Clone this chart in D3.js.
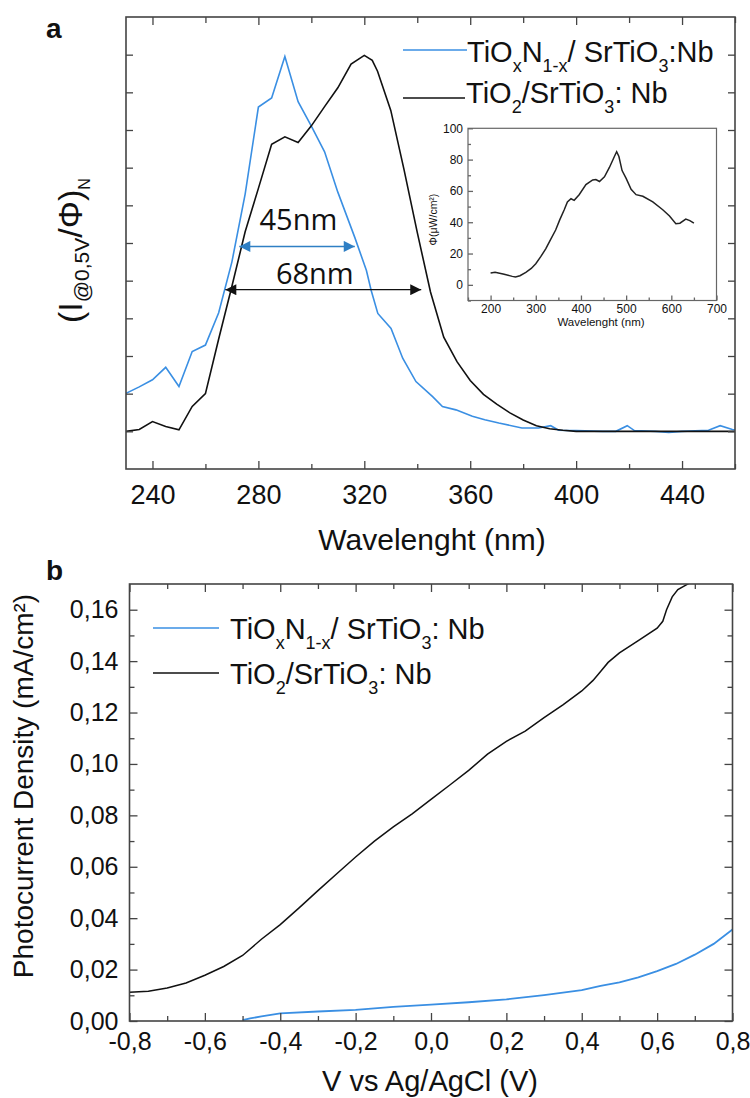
<!DOCTYPE html>
<html><head><meta charset="utf-8">
<script src="https://cdn.jsdelivr.net/npm/d3@7"></script>
<style>
body{margin:0;background:#fff}
svg{display:block}
text{font-family:"Liberation Sans",Arial,sans-serif;fill:#111}
</style>
</head><body>
<svg id="c" width="750" height="1098"></svg>
<script>
// ---------------- DATA ----------------
// Panel a: normalised photoresponse spectra
const wlTiON = [230,235,240,245,250,255,260,265,270,275,280,285,290,295,300,305,310,316.4,320.8,322.6,325.1,330.1,334.5,339.5,345.8,349.5,354.6,360.8,365.5,370.8,379.5,385.8,390.4,393.4,400,410,415,419.3,422,430,435,440,450,454.4,459,460];
const respTiON = [0.101,0.118,0.137,0.170,0.119,0.212,0.229,0.315,0.45,0.63,0.861,0.885,0.995,0.875,0.81,0.742,0.635,0.515,0.427,0.374,0.313,0.273,0.194,0.132,0.092,0.066,0.057,0.040,0.031,0.022,0.009,0.009,0.015,0.003,0.002,0.0,0.0,0.015,0.002,0.0,-0.003,0.0,0.003,0.015,0.005,0.004];
const wlTiO2 = [230,235,240,245,250,255,260,265,270,275,280,285,290,295,300,305,310,315,320,323,325,330,335,340,345,350,355,360,365,370,375,380,385,390,395,400,420,440,460];
const respTiO2 = [0.000,0.005,0.026,0.013,0.004,0.066,0.100,0.245,0.385,0.530,0.645,0.762,0.782,0.767,0.811,0.862,0.912,0.975,0.998,0.985,0.956,0.852,0.695,0.528,0.370,0.250,0.185,0.135,0.098,0.072,0.049,0.030,0.015,0.007,0.003,0.000,0.000,0.000,0.000];
const ticksA_major = [240,280,320,360,400,440];
const ticksA_minor = [260,300,340,380,420,460];
const ticksA_y = [0,0.1,0.2,0.3,0.4,0.5,0.6,0.7,0.8,0.9,1.0];
// Inset: photon flux
const wlFlux = [200,210,230,248,255,265,278,290,300,311,322,333,344,353,363,370,378,385,396,411,426,433,441,452,463,474,479,484,491,500,511,522,537,559,581,596,610,619,632,641,650];
const flux = [7.5,8,6.8,5.4,5,5.8,8,10.5,13.5,18,23,29,35,41.5,48,53,55,54,57.6,64,67,67.3,66,69,75,82,85,82,73,68,61,57.6,56.6,53,48,44,39,39.4,42,41,39.4];
const ticksInsetX = [200,300,400,500,600,700];
const ticksInsetY = [0,20,40,60,80,100];
// Panel b: J-V curves
const vTiON = [-0.50,-0.48,-0.45,-0.40,-0.30,-0.20,-0.10,0.00,0.10,0.20,0.30,0.40,0.45,0.50,0.55,0.60,0.65,0.70,0.75,0.80];
const jTiON = [0.0003,0.0010,0.0018,0.0030,0.0037,0.0043,0.0055,0.0064,0.0073,0.0084,0.0101,0.0120,0.0137,0.0150,0.0170,0.0194,0.0222,0.0258,0.0300,0.0356];
const vTiO2 = [-0.80,-0.75,-0.70,-0.65,-0.60,-0.55,-0.50,-0.45,-0.40,-0.35,-0.30,-0.25,-0.20,-0.15,-0.10,-0.05,0.00,0.05,0.10,0.15,0.20,0.25,0.30,0.35,0.40,0.43,0.45,0.47,0.50,0.55,0.60,0.615,0.625,0.64,0.655,0.675,0.70];
const jTiO2 = [0.0112,0.0116,0.0128,0.0148,0.0178,0.0212,0.0255,0.0318,0.0375,0.0440,0.0507,0.0573,0.0638,0.0700,0.0755,0.0806,0.0862,0.0918,0.0975,0.1038,0.1088,0.1128,0.1180,0.1230,0.1284,0.1325,0.1360,0.1395,0.1432,0.1480,0.1528,0.1555,0.1600,0.1650,0.1678,0.1695,0.1715];
const ticksB_x = [-0.8,-0.6,-0.4,-0.2,0,0.2,0.4,0.6,0.8];
const ticksB_xminor = [-0.7,-0.5,-0.3,-0.1,0.1,0.3,0.5,0.7];
const ticksB_y = [0,0.02,0.04,0.06,0.08,0.10,0.12,0.14,0.16];
const ticksB_yminor = [0.01,0.03,0.05,0.07,0.09,0.11,0.13,0.15];

// ---------------- DRAW ----------------
const BLUE = "#3a8fe3", BLUE_TXT = "#2f7fc4", FRAME = "#444";
const svg = d3.select("#c");

function frame(g, x, y, stroke, sw){
  const [x0,x1] = x.range(), [y0,y1] = y.range();
  g.append("rect").attr("x",x0).attr("y",y1).attr("width",x1-x0).attr("height",y0-y1)
   .attr("fill","none").attr("stroke",stroke).attr("stroke-width",sw);
}
function ticksOnly(g, axisFn, scale, vals, size, translate, stroke){
  const a = g.append("g").attr("transform",translate)
    .call(axisFn(scale).tickValues(vals).tickSize(size).tickFormat(""));
  a.select(".domain").remove();
  a.selectAll("line").attr("stroke",stroke).attr("stroke-width",1.3);
  return a;
}
function labelsOnly(g, axisFn, scale, vals, fmt, pad, translate, fs, color){
  const a = g.append("g").attr("transform",translate)
    .call(axisFn(scale).tickValues(vals).tickSize(0).tickPadding(pad).tickFormat(fmt));
  a.select(".domain").remove();
  a.selectAll("text").style("font-family",'"Liberation Sans",Arial,sans-serif')
   .style("font-size",fs+"px").attr("fill",color);
  return a;
}

// ===== Panel a =====
const aX = d3.scaleLinear().domain([230,460]).range([126,735]);
const aY = d3.scaleLinear().domain([-0.1,1.1]).range([469,17]);
const ga = svg.append("g");
ga.append("defs").append("clipPath").attr("id","clipA").append("rect")
  .attr("x",126).attr("y",17).attr("width",609).attr("height",452);

const line = (xs,ys,sx,sy)=>d3.line().x((d,i)=>sx(xs[i])).y((d,i)=>sy(ys[i]))(xs);
ga.append("path").attr("d",line(wlTiON,respTiON,aX,aY)).attr("fill","none")
  .attr("stroke",BLUE).attr("stroke-width",1.6).attr("clip-path","url(#clipA)");
ga.append("path").attr("d",line(wlTiO2,respTiO2,aX,aY)).attr("fill","none")
  .attr("stroke","#111").attr("stroke-width",1.6).attr("clip-path","url(#clipA)");

// ticks (inward)
ticksOnly(ga, d3.axisBottom, aX, ticksA_major, -8, "translate(0,469)", FRAME);
ticksOnly(ga, d3.axisBottom, aX, ticksA_minor, -5, "translate(0,469)", FRAME);
ticksOnly(ga, d3.axisTop, aX, ticksA_major, -8, "translate(0,17)", FRAME);
ticksOnly(ga, d3.axisTop, aX, ticksA_minor, -6, "translate(0,17)", FRAME);
ticksOnly(ga, d3.axisLeft, aY, ticksA_y, -7, "translate(126,0)", FRAME);
ticksOnly(ga, d3.axisRight, aY, ticksA_y, -7, "translate(735,0)", FRAME);
labelsOnly(ga, d3.axisBottom, aX, ticksA_major, d=>d, 16, "translate(0,469)", 27, "#111");
frame(ga, aX, aY, FRAME, 1.6);

// annotations (FWHM arrows)
const defs = svg.append("defs");
function marker(id,color){
  defs.append("marker").attr("id",id).attr("viewBox","0 0 10 10").attr("refX",10).attr("refY",5)
    .attr("markerWidth",13).attr("markerHeight",11).attr("markerUnits","userSpaceOnUse").attr("orient","auto-start-reverse")
    .append("path").attr("d","M0,0 L10,5 L0,10 z").attr("fill",color);
}
marker("arrB",BLUE_TXT); marker("arrK","#111");
ga.append("line").attr("x1",aX(272.8)).attr("x2",aX(316.4)).attr("y1",aY(0.491)).attr("y2",aY(0.491))
  .attr("stroke",BLUE_TXT).attr("stroke-width",1.5).attr("marker-start","url(#arrB)").attr("marker-end","url(#arrB)");
ga.append("line").attr("x1",aX(267.5)).attr("x2",aX(341.5)).attr("y1",aY(0.376)).attr("y2",aY(0.376))
  .attr("stroke","#111").attr("stroke-width",1.3).attr("marker-start","url(#arrK)").attr("marker-end","url(#arrK)");
ga.append("text").attr("x",aX(295.1)).attr("y",aY(0.535)).attr("text-anchor","middle")
  .style("font-family",'"Open Sans",sans-serif').style("font-size","29px").attr("fill",BLUE_TXT).text("45nm");
ga.append("text").attr("x",aX(301.3)).attr("y",aY(0.39)).attr("text-anchor","middle")
  .style("font-family",'"Open Sans",sans-serif').style("font-size","29px").attr("fill","#111").text("68nm");

// legend a
function formula(g, x, y, parts, fs, sfs, shift){
  const t = g.append("text").attr("x",x).attr("y",y).style("font-size",fs+"px");
  let down = false;
  parts.forEach(p=>{
    const sub = p[1];
    const ts = t.append("tspan").text(p[0]);
    if(sub && !down){ ts.attr("dy",shift).style("font-size",sfs+"px"); down=true; }
    else if(!sub && down){ ts.attr("dy",-shift); down=false; }
    else if(sub){ ts.style("font-size",sfs+"px"); }
  });
  return t;
}
const TION_A = [["TiO"],["x",1],["N"],["1-x",1],["/ SrTiO"],["3",1],[":Nb"]];
const TIO2_A = [["TiO"],["2",1],["/SrTiO"],["3",1],[": Nb"]];
ga.append("line").attr("x1",403).attr("x2",467).attr("y1",50).attr("y2",50).attr("stroke",BLUE).attr("stroke-width",1.6);
formula(ga, 467, 62, TION_A, 29, 18, 10);
ga.append("line").attr("x1",403).attr("x2",465).attr("y1",98).attr("y2",98).attr("stroke","#111").attr("stroke-width",1.6);
formula(ga, 466, 103, TIO2_A, 29, 18, 10);

// y label a
const yl = ga.append("text").attr("transform","translate(82,323) rotate(-90)").style("font-size","34px");
yl.append("tspan").text("(I");
yl.append("tspan").text("@0,5V").style("font-size","21px").attr("dy",7);
yl.append("tspan").text("/Φ)").attr("dy",-7);
yl.append("tspan").text("N").style("font-size","16px").attr("dy",8);
// x label a
ga.append("text").attr("x",432).attr("y",550).attr("text-anchor","middle").style("font-size","30px").text("Wavelenght (nm)");
ga.append("text").attr("x",46).attr("y",38).style("font-size","28px").style("font-weight","bold").text("a");

// ===== Inset =====
const iX = d3.scaleLinear().domain([150,700]).range([468,716.5]);
const iY = d3.scaleLinear().domain([-10,100]).range([300.5,128.3]);
const gi = svg.append("g");
gi.append("rect").attr("x",468).attr("y",128.3).attr("width",248.5).attr("height",172.2).attr("fill","#fff");
gi.append("path").attr("d",line(wlFlux,flux,iX,iY)).attr("fill","none").attr("stroke","#222").attr("stroke-width",1.5);
ticksOnly(gi, d3.axisLeft, iY, ticksInsetY, -5, "translate(468,0)", "#666");
ticksOnly(gi, d3.axisLeft, iY, [-10,10,30,50,70,90], -3, "translate(468,0)", "#666");
ticksOnly(gi, d3.axisBottom, iX, ticksInsetX, -5, "translate(0,300.5)", "#666");
ticksOnly(gi, d3.axisBottom, iX, [150,250,350,450,550,650], -3, "translate(0,300.5)", "#666");
labelsOnly(gi, d3.axisLeft, iY, ticksInsetY, d=>d, 5, "translate(468,0)", 12, "#555");
labelsOnly(gi, d3.axisBottom, iX, ticksInsetX, d=>d, 4, "translate(0,300.5)", 12, "#555");
frame(gi, iX, iY, "#666", 1.2);
gi.append("text").attr("x",601).attr("y",326).attr("text-anchor","middle").style("font-size","11.5px").attr("fill","#555").text("Wavelenght (nm)");
gi.append("text").attr("transform","translate(437,219.5) rotate(-90)").attr("text-anchor","middle").style("font-size","10.5px").attr("fill","#555").text("Φ(μW/cm²)");

// ===== Panel b =====
const bX = d3.scaleLinear().domain([-0.8,0.8]).range([129.5,732.5]);
const bY = d3.scaleLinear().domain([0,0.17]).range([1021,584]);
const gb = svg.append("g");
gb.append("defs").append("clipPath").attr("id","clipB").append("rect")
  .attr("x",129.5).attr("y",584).attr("width",603).attr("height",437);
gb.append("path").attr("d",line(vTiO2,jTiO2,bX,bY)).attr("fill","none").attr("stroke","#111").attr("stroke-width",1.5).attr("clip-path","url(#clipB)");
gb.append("path").attr("d",line(vTiON,jTiON,bX,bY)).attr("fill","none").attr("stroke",BLUE).attr("stroke-width",1.8).attr("clip-path","url(#clipB)");

ticksOnly(gb, d3.axisBottom, bX, ticksB_x, -8, "translate(0,1021)", FRAME);
ticksOnly(gb, d3.axisBottom, bX, ticksB_xminor, -5, "translate(0,1021)", FRAME);
ticksOnly(gb, d3.axisTop, bX, ticksB_x, -8, "translate(0,584)", FRAME);
ticksOnly(gb, d3.axisTop, bX, ticksB_xminor, -5, "translate(0,584)", FRAME);
ticksOnly(gb, d3.axisLeft, bY, ticksB_y, -8, "translate(129.5,0)", FRAME);
ticksOnly(gb, d3.axisLeft, bY, ticksB_yminor, -5, "translate(129.5,0)", FRAME);
ticksOnly(gb, d3.axisRight, bY, ticksB_y, -8, "translate(732.5,0)", FRAME);
ticksOnly(gb, d3.axisRight, bY, ticksB_yminor, -5, "translate(732.5,0)", FRAME);
const fmt1 = d=>d.toFixed(1).replace(".",",");
const fmt2 = d=>d.toFixed(2).replace(".",",");
labelsOnly(gb, d3.axisBottom, bX, ticksB_x, fmt1, 11, "translate(0,1021)", 25, "#111");
labelsOnly(gb, d3.axisLeft, bY, ticksB_y, fmt2, 11, "translate(129.5,0)", 25, "#111");
frame(gb, bX, bY, FRAME, 1.6);

const TION_B = [["TiO"],["x",1],["N"],["1-x",1],["/ SrTiO"],["3",1],[": Nb"]];
gb.append("line").attr("x1",153).attr("x2",219).attr("y1",628).attr("y2",628).attr("stroke",BLUE).attr("stroke-width",1.6);
formula(gb, 230, 639, TION_B, 29, 18, 10);
gb.append("line").attr("x1",153).attr("x2",219).attr("y1",673).attr("y2",673).attr("stroke","#111").attr("stroke-width",1.6);
formula(gb, 230, 684, TIO2_A, 29, 18, 10);

gb.append("text").attr("transform","translate(33,786) rotate(-90)").attr("text-anchor","middle").style("font-size","28px").text("Photocurrent Density (mA/cm²)");
gb.append("text").attr("x",430).attr("y",1091).attr("text-anchor","middle").style("font-size","29px").text("V vs Ag/AgCl (V)");
gb.append("text").attr("x",46).attr("y",580).style("font-size","28px").style("font-weight","bold").text("b");
</script>
</body></html>
